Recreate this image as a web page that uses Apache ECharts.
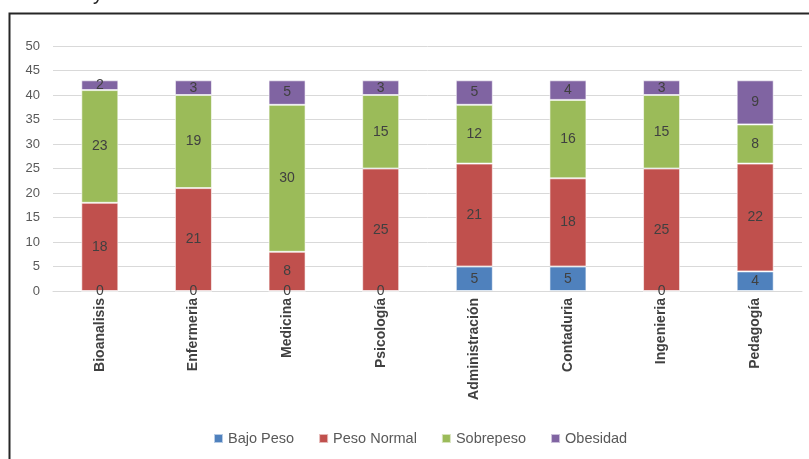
<!DOCTYPE html>
<html><head><meta charset="utf-8">
<script src="https://cdn.jsdelivr.net/npm/echarts@6/dist/echarts.min.js"></script>
<style>html,body{margin:0;padding:0;background:#fff}#c{width:809px;height:459px}</style>
</head><body><div id="c"></div>
<script>
const categories = ['Bioanalisis','Enfermeria','Medicina','Psicología','Administración','Contaduria','Ingenieria','Pedagogía'];
const bajoPeso = [0,0,0,0,5,5,0,4];
const pesoNormal = [18,21,8,25,21,18,25,22];
const sobrepeso = [23,19,30,15,12,16,15,8];
const obesidad = [2,3,5,3,5,4,3,9];
const yTicks = [0,5,10,15,20,25,30,35,40,45,50];

const FONT = 'Liberation Sans';
const colors = ['#4F81BD','#C0504D','#9BBB59','#8064A2'];
function s(name, data, i){
  return {name, type:'bar', stack:'t', data, barWidth:37,
    itemStyle:{color:colors[i], borderColor:'rgba(255,255,255,0.6)', borderWidth:1},
    label:{show:true, position:'inside', color:'#404040', fontSize:14, fontFamily:FONT},
    emphasis:{disabled:true}};
}
const chart = echarts.init(document.getElementById('c'));
chart.setOption({
  animation:false,
  color:colors,
  grid:{left:53, right:7, top:46, bottom:168},
  legend:{bottom:8, left:208, itemWidth:9, itemHeight:9, itemGap:24, icon:'rect',
    textStyle:{color:'#595959', fontSize:14.5, fontFamily:FONT},
    data:['Bajo Peso','Peso Normal','Sobrepeso','Obesidad']},
  xAxis:{type:'category', data:categories,
    axisLine:{lineStyle:{color:'#d9d9d9'}}, axisTick:{show:false},
    axisLabel:{rotate:90, interval:0, color:'#404040', fontWeight:'bold', fontSize:14, fontFamily:FONT, margin:7}},
  yAxis:{type:'value', min:yTicks[0], max:yTicks[yTicks.length-1], interval:5,
    axisLine:{show:false}, axisTick:{show:false},
    splitLine:{lineStyle:{color:'#d9d9d9'}},
    axisLabel:{color:'#595959', fontSize:13, fontFamily:FONT, margin:13}},
  graphic:[
    {type:'rect', shape:{x:9.5, y:13.5, width:900, height:600}, style:{fill:null, stroke:'#262626', lineWidth:2}, silent:true},
    {type:'text', left:93, top:-16, style:{text:'y', fontSize:20, fontFamily:FONT, fill:'#262626'}}
  ],
  series:[s('Bajo Peso',bajoPeso,0), s('Peso Normal',pesoNormal,1), s('Sobrepeso',sobrepeso,2), s('Obesidad',obesidad,3)]
});
</script></body></html>
